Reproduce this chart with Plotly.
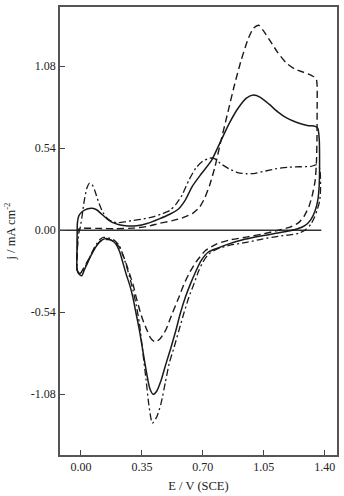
import plotly.graph_objects as go

# ---- data (E in V vs SCE, j in mA cm^-2) ----
solid_E = [-0.022, -0.022, -0.02, -0.012, 0.01, 0.04, 0.065, 0.09, 0.12, 0.15, 0.18, 0.22, 0.27, 0.32,
           0.38, 0.45, 0.51, 0.56, 0.60, 0.64, 0.69, 0.75, 0.80, 0.85, 0.90, 0.95, 0.99, 1.03, 1.08,
           1.13, 1.18, 1.24, 1.30, 1.345, 1.36, 1.368, 1.37, 1.368, 1.36, 1.345, 1.32, 1.285, 1.24,
           1.20, 1.13, 1.04, 0.94, 0.85, 0.78, 0.73, 0.69, 0.66, 0.63, 0.60, 0.57, 0.545, 0.515,
           0.488, 0.46, 0.435, 0.415, 0.395, 0.374, 0.355, 0.336, 0.317, 0.298, 0.28, 0.26, 0.24,
           0.222, 0.20, 0.175, 0.148, 0.12, 0.10, 0.08, 0.06, 0.04, 0.02, 0.005, -0.01, -0.022]
solid_j = [-0.26, -0.10, 0.05, 0.095, 0.125, 0.142, 0.145, 0.135, 0.105, 0.075, 0.052, 0.036, 0.028, 0.03,
           0.045, 0.075, 0.105, 0.14, 0.20, 0.29, 0.37, 0.46, 0.58, 0.70, 0.80, 0.87, 0.89, 0.875, 0.83,
           0.78, 0.74, 0.71, 0.69, 0.684, 0.67, 0.60, 0.45, 0.30, 0.20, 0.13, 0.07, 0.03, 0.008,
           -0.003, -0.018, -0.036, -0.06, -0.09, -0.12, -0.145, -0.20, -0.27, -0.35, -0.44, -0.55, -0.66, -0.78,
           -0.88, -0.99, -1.06, -1.08, -1.04, -0.92, -0.79, -0.66, -0.55, -0.44, -0.36, -0.29, -0.21,
           -0.14, -0.09, -0.065, -0.055, -0.065, -0.085, -0.12, -0.16, -0.21, -0.26, -0.30, -0.29, -0.26]

dash_E = [-0.022, -0.02, -0.015, 0.0, 0.10, 0.20, 0.30, 0.38, 0.45, 0.52, 0.58, 0.64, 0.68, 0.71, 0.74,
          0.77, 0.80, 0.84, 0.88, 0.92, 0.96, 0.99, 1.02, 1.05, 1.09, 1.13, 1.18, 1.23, 1.28, 1.33,
          1.35, 1.356, 1.356, 1.355, 1.352, 1.345, 1.33, 1.31, 1.28, 1.25, 1.20, 1.15, 1.10, 1.04,
          0.95, 0.85, 0.78, 0.715, 0.66, 0.62, 0.59, 0.563, 0.52, 0.49, 0.47, 0.45, 0.425, 0.40,
          0.38, 0.355, 0.336, 0.317, 0.30, 0.28, 0.26, 0.24, 0.22, 0.19, 0.16, 0.14, 0.115, 0.09,
          0.07, 0.05, 0.03, 0.01, 0.0, -0.012, -0.022]
dash_j = [-0.26, -0.10, 0.005, 0.012, 0.012, 0.01, 0.014, 0.025, 0.045, 0.062, 0.08, 0.11, 0.15, 0.21, 0.30,
          0.42, 0.57, 0.76, 0.95, 1.12, 1.26, 1.33, 1.35, 1.31, 1.24, 1.17, 1.10, 1.06, 1.04, 1.015,
          1.00, 0.95, 0.80, 0.60, 0.45, 0.33, 0.24, 0.16, 0.09, 0.05, 0.02, 0.005, -0.01, -0.025,
          -0.045, -0.065, -0.09, -0.134, -0.21, -0.287, -0.36, -0.44, -0.56, -0.65, -0.69, -0.72, -0.735, -0.71,
          -0.66, -0.59, -0.52, -0.44, -0.36, -0.29, -0.22, -0.16, -0.11, -0.075, -0.062, -0.062, -0.07, -0.10,
          -0.14, -0.18, -0.22, -0.26, -0.28, -0.28, -0.26]

dashdot_E = [-0.022, -0.02, -0.012, -0.005, 0.005, 0.02, 0.035, 0.05, 0.065, 0.08, 0.10, 0.125, 0.15, 0.18,
             0.21, 0.25, 0.30, 0.36, 0.42, 0.47, 0.51, 0.545, 0.58, 0.62, 0.66, 0.70, 0.74, 0.77, 0.80,
             0.85, 0.90, 0.95, 1.00, 1.06, 1.12, 1.19, 1.26, 1.32, 1.35, 1.37, 1.375, 1.375, 1.37, 1.355,
             1.34, 1.32, 1.285, 1.25, 1.20, 1.13, 1.04, 0.95, 0.85, 0.78, 0.734, 0.70, 0.677, 0.65, 0.62,
             0.59, 0.563, 0.535, 0.507, 0.485, 0.46, 0.435, 0.41, 0.39, 0.374, 0.355, 0.336, 0.317, 0.298,
             0.28, 0.26, 0.24, 0.22, 0.19, 0.16, 0.13, 0.11, 0.09, 0.07, 0.05, 0.03, 0.01, 0.0, -0.012, -0.022]
dashdot_j = [-0.26, -0.12, -0.02, 0.01, 0.08, 0.20, 0.28, 0.31, 0.30, 0.26, 0.19, 0.12, 0.08, 0.056,
             0.05, 0.055, 0.065, 0.075, 0.09, 0.11, 0.13, 0.17, 0.23, 0.33, 0.41, 0.455, 0.475, 0.47, 0.44,
             0.405, 0.38, 0.372, 0.375, 0.39, 0.405, 0.415, 0.418, 0.42, 0.43, 0.41, 0.35, 0.25, 0.19, 0.13,
             0.084, 0.04, 0.0, -0.02, -0.03, -0.04, -0.058, -0.08, -0.10, -0.125, -0.156, -0.21, -0.265, -0.35, -0.44,
             -0.55, -0.658, -0.77, -0.876, -1.0, -1.14, -1.23, -1.27, -1.15, -0.985, -0.80, -0.614, -0.49, -0.39,
             -0.31, -0.23, -0.16, -0.10, -0.065, -0.05, -0.047, -0.06, -0.09, -0.13, -0.18, -0.23, -0.27, -0.285, -0.28, -0.26]

zero_E = [-0.12, 1.38]
zero_j = [0.0, 0.0]

x_ticks = [0.00, 0.35, 0.70, 1.05, 1.40]
x_labels = ["0.00", "0.35", "0.70", "1.05", "1.40"]
y_ticks = [1.08, 0.54, 0.00, -0.54, -1.08]
y_labels = ["1.08", "0.54", "0.00", "-0.54", "-1.08"]

FONT = "Liberation Serif"
INK = "#1a1a1a"

fig = go.Figure()
fig.add_trace(go.Scatter(x=zero_E, y=zero_j, mode="lines",
                         line=dict(color="#333333", width=1.3), hoverinfo="skip"))
fig.add_trace(go.Scatter(x=solid_E, y=solid_j, mode="lines",
                         line=dict(color=INK, width=1.5, shape="spline", smoothing=0.6)))
fig.add_trace(go.Scatter(x=dash_E, y=dash_j, mode="lines",
                         line=dict(color=INK, width=1.4, dash="7px,4px", shape="spline", smoothing=0.6)))
fig.add_trace(go.Scatter(x=dashdot_E, y=dashdot_j, mode="lines",
                         line=dict(color=INK, width=1.3, dash="7px,3px,2px,3px", shape="spline", smoothing=0.6)))

axis_common = dict(showgrid=False, zeroline=False, showline=True, mirror=True,
                   linecolor="#555555", linewidth=1.5, ticks="inside", ticklen=5,
                   tickcolor="#444444", tickwidth=1,
                   tickfont=dict(family=FONT, size=12, color="#222222"))

fig.update_layout(
    width=344, height=496,
    margin=dict(l=60, r=5, t=5, b=40),
    paper_bgcolor="white", plot_bgcolor="white",
    showlegend=False,
    font=dict(family=FONT, color="#222222"),
    xaxis=dict(range=[-0.12, 1.47], tickvals=x_ticks, ticktext=x_labels,
               title=dict(text="E / V (SCE)", font=dict(family=FONT, size=12.5), standoff=8),
               **axis_common),
    yaxis=dict(range=[-1.48, 1.47], tickvals=y_ticks, ticktext=y_labels,
               title=dict(text="j / mA cm<sup>-2</sup>", font=dict(family=FONT, size=12.5), standoff=12),
               **axis_common),
)

fig.write_html("out.html")
